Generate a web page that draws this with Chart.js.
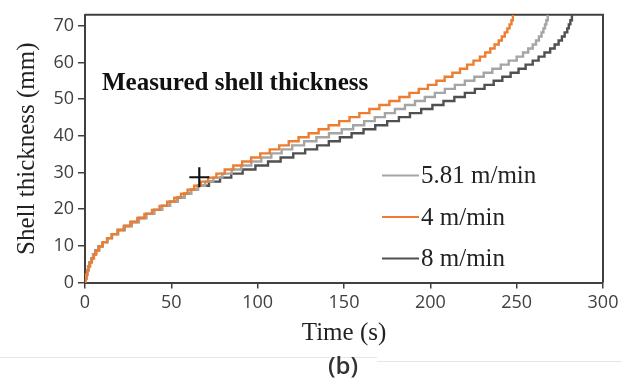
<!DOCTYPE html>
<html>
<head>
<meta charset="utf-8">
<script src="https://cdn.jsdelivr.net/npm/chart.js@4.4.0/dist/chart.umd.min.js"></script>
<style>
    body { margin: 0; background: #fff; }
</style>
</head>
<body>
<canvas id="chart" width="639" height="386"></canvas>
<script>
// shell thickness levels (mm) - the curves move up one level at a time
const thicknessLevels = [0, 1.1, 2.2, 3.3, 4.4, 5.5, 6.6, 7.7, 8.8, 9.9, 11, 12.1, 13.2, 14.3, 15.4, 16.5, 17.6, 18.7, 19.8, 20.9,
    22, 23.1, 24.2, 25.3, 26.4, 27.5, 28.6, 29.7, 30.8, 31.9, 33, 34.1, 35.2, 36.3, 37.4, 38.5, 39.6, 40.7, 41.8, 42.9,
    44, 45.1, 46.2, 47.3, 48.4, 49.5, 50.6, 51.7, 52.8, 53.9, 55, 56.1, 57.2, 58.3, 59.4, 60.5, 61.6, 62.7, 63.8, 64.9,
    66, 67.1, 68.2, 69.3, 70.4, 71.5, 73];

// time (s) at which each level is reached, per casting speed
const time581 = [0, 0.4, 0.7, 1.2, 1.8, 2.6, 3.6, 4.7, 6.1, 7.8, 10, 12.8, 15.6, 19.1, 22.9, 26.9, 31.2, 35.4, 40, 44.6,
    49.2, 53.5, 57.5, 61.4, 65.4, 69.6, 74.3, 79.5, 85, 90.5, 96.3, 102.1, 107.9, 113.9, 120, 126.9, 134, 141.3, 148.7, 155.3,
    161.7, 167.8, 173.7, 179.5, 185.3, 191.1, 196.8, 202.6, 208.4, 214.2, 220, 225.5, 230.9, 235.9, 240.8, 245.4, 250, 253.7, 256.7, 259.3,
    261.2, 262.9, 264.4, 265.5, 266.4, 267.2, 268];
const time4 = [0, 0.5, 0.9, 1.4, 2.1, 3.0, 4.0, 5.2, 6.6, 8.3, 10.3, 12.9, 15.5, 18.8, 22.4, 26.2, 30.3, 34.4, 38.8, 43.2,
    47.6, 51.7, 55.6, 59.4, 63.2, 67, 71.3, 76.1, 80.9, 85.9, 91.0, 96.2, 101.5, 107, 112.5, 118, 123.7, 129.5, 135.3, 141.1,
    147.2, 153.2, 158.9, 164.7, 170.5, 176.3, 182.1, 187.9, 193.3, 198.6, 203.5, 208.3, 212.8, 217.2, 221.3, 225, 228.7, 231.8, 234.7, 237.2,
    239.6, 241.4, 243.1, 244.6, 245.9, 247, 247.8];
const time8 = [0, 0.4, 0.7, 1.2, 1.8, 2.6, 3.6, 4.7, 6.1, 7.8, 10, 12.8, 15.6, 19.1, 22.9, 26.9, 31.2, 35.4, 40, 44.6,
    49.2, 53.5, 57.5, 61.4, 65.4, 71.8, 78.2, 84.7, 91.3, 98.7, 106, 113.3, 120.6, 127.5, 134.4, 141.2, 147.6, 154.4, 161.3, 168.1,
    175, 181.8, 188.2, 194.7, 201.2, 207.6, 213.9, 220, 225.8, 231.4, 236.7, 241.7, 246.5, 251.1, 255.2, 259.3, 262.7, 266.1, 269.4, 272,
    274.3, 276.2, 277.8, 279.3, 280.2, 281.1, 282];

const measuredTime = [66.2];
const measuredThickness = [28.7];

const seriesLabels = ['5.81 m/min', '4 m/min', '8 m/min'];
const seriesColors = ['#a5a5a5', '#ed7d31', '#505050'];

const xTicks = [0, 50, 100, 150, 200, 250, 300];
const yTicks = [0, 10, 20, 30, 40, 50, 60, 70];

function toPoints(times) {
    return times.map((t, i) => ({ x: t, y: thicknessLevels[i] }));
}

const serif = "'Liberation Serif', 'Times New Roman', serif";
const axisColor = '#404040';
const tickFont = { family: "'Open Sans', sans-serif", size: 18 };

// frame, annotation text, legend inside the plot and the caption under it
const extras = {
    id: 'extras',
    beforeDatasetsDraw(chart) {
        const a = chart.chartArea;
        const ctx = chart.ctx;
        ctx.save();
        ctx.strokeStyle = axisColor;
        ctx.lineWidth = 2;
        ctx.beginPath();
        ctx.moveTo(a.left, a.top);
        ctx.lineTo(a.right, a.top);
        ctx.lineTo(a.right, a.bottom);
        ctx.stroke();
        ctx.restore();
    },
    afterDraw(chart) {
        const ctx = chart.ctx;
        ctx.save();

        ctx.fillStyle = '#111';
        ctx.font = 'bold 25px ' + serif;
        ctx.textBaseline = 'middle';
        ctx.fillText('Measured shell thickness', 102, 84);

        // legend
        const rows = [175.5, 217, 258.5];
        ctx.font = '25px ' + serif;
        rows.forEach((y, i) => {
            ctx.strokeStyle = seriesColors[i];
            ctx.lineWidth = 2.2;
            ctx.beginPath();
            ctx.moveTo(382, y);
            ctx.lineTo(419, y);
            ctx.stroke();
            ctx.fillStyle = '#222';
            ctx.fillText(seriesLabels[i], 421, y + 1);
        });

        // faint page rules and caption
        ctx.strokeStyle = '#e6e6e6';
        ctx.lineWidth = 1;
        ctx.beginPath();
        ctx.moveTo(0, 357.5); ctx.lineTo(377, 357.5);
        ctx.moveTo(377, 361.5); ctx.lineTo(622, 361.5);
        ctx.stroke();

        ctx.fillStyle = '#333';
        ctx.font = "600 24px 'Open Sans', sans-serif";
        ctx.textAlign = 'center';
        ctx.fillText('(b)', 343, 367);
        ctx.restore();
    }
};

const ctx = document.getElementById('chart').getContext('2d');
new Chart(ctx, {
    type: 'line',
    data: {
        datasets: [
            { label: seriesLabels[0], data: toPoints(time581), borderColor: seriesColors[0], order: 1 },
            { label: seriesLabels[1], data: toPoints(time4), borderColor: seriesColors[1], order: 0 },
            { label: seriesLabels[2], data: toPoints(time8), borderColor: seriesColors[2], order: 2 },
            {
                label: 'Measured',
                data: measuredTime.map((t, i) => ({ x: t, y: measuredThickness[i] })),
                showLine: false,
                pointStyle: 'cross',
                pointRadius: 10,
                pointBorderWidth: 2.2,
                pointBorderColor: '#111',
                order: -1
            }
        ]
    },
    options: {
        responsive: false,
        animation: false,
        layout: { padding: { top: 9.5, right: 36, left: 0, bottom: 0 } },
        elements: {
            line: { borderWidth: 2.4, stepped: true, fill: false },
            point: { radius: 0 }
        },
        plugins: {
            legend: { display: false },
            tooltip: { enabled: false }
        },
        scales: {
            x: {
                type: 'linear',
                min: 0,
                max: 300,
                afterBuildTicks: scale => { scale.ticks = xTicks.map(v => ({ value: v })); },
                afterFit: scale => { scale.height = 103.5; },
                ticks: { color: '#404040', font: tickFont, padding: 4, maxRotation: 0 },
                grid: { drawOnChartArea: false, drawTicks: true, tickLength: 6, color: axisColor, lineWidth: 1.5 },
                border: { display: true, color: axisColor, width: 2 },
                title: {
                    display: true,
                    text: 'Time (s)',
                    color: '#222',
                    font: { family: serif, size: 25 },
                    padding: { top: 0, bottom: 38 }
                }
            },
            y: {
                min: 0,
                max: 73,
                afterBuildTicks: scale => { scale.ticks = yTicks.map(v => ({ value: v })); },
                afterFit: scale => { scale.width = 85; },
                ticks: { color: '#404040', font: tickFont, padding: 4 },
                grid: { drawOnChartArea: false, drawTicks: true, tickLength: 7, color: axisColor, lineWidth: 1.5 },
                border: { display: true, color: axisColor, width: 2 },
                title: {
                    display: true,
                    text: 'Shell thickness (mm)',
                    color: '#222',
                    font: { family: serif, size: 25 },
                    padding: { top: 12, bottom: 0 }
                }
            }
        }
    },
    plugins: [extras]
});
</script>
</body>
</html>
